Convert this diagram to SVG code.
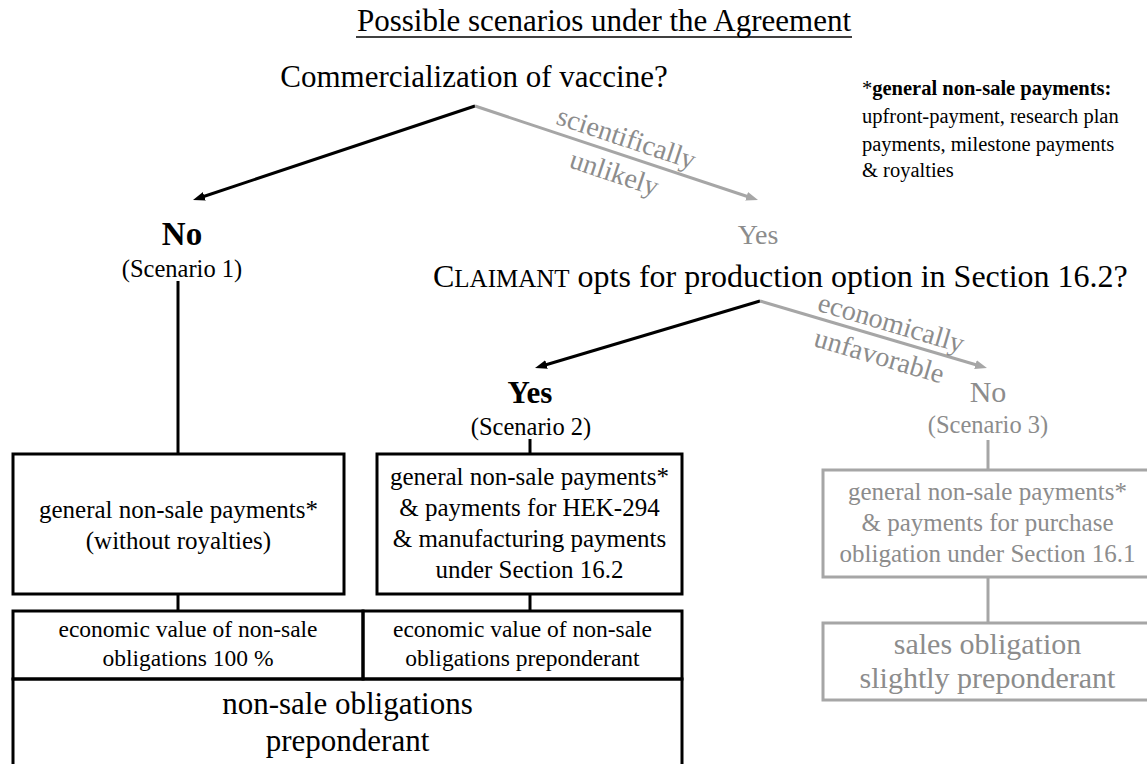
<svg xmlns="http://www.w3.org/2000/svg" width="1147" height="764" viewBox="0 0 1147 764">
<style>
text{font-family:"Liberation Serif","Times New Roman",serif;fill:#000}
.g{fill:#8c8c8c}
.c{text-anchor:middle}
.box{fill:none;stroke:#000;stroke-width:3}
.gbox{fill:none;stroke:#a6a6a6;stroke-width:3}
.ln{stroke:#000;stroke-width:3;fill:none}
.gln{stroke:#a6a6a6;stroke-width:3;fill:none}
.t25{font-size:25px}
.t23{font-size:23.5px}
.t31{font-size:31px}
.t30{font-size:30px}
.sc{font-size:24.5px}
.lab{font-size:28px}
</style>
<defs>
<marker id="ab" markerUnits="userSpaceOnUse" markerWidth="14" markerHeight="12" viewBox="0 -6 14 12" refX="4" refY="0" orient="auto"><path d="M0,-4.5 L12,0 L0,4.5 z" fill="#000"/></marker>
<marker id="ag" markerUnits="userSpaceOnUse" markerWidth="14" markerHeight="12" viewBox="0 -6 14 12" refX="4" refY="0" orient="auto"><path d="M0,-4.5 L12,0 L0,4.5 z" fill="#a6a6a6"/></marker>
</defs>

<g id="title">
<text class="c" x="604" y="31" font-size="31">Possible scenarios under the Agreement</text>
<line x1="356" y1="37" x2="852" y2="37" stroke="#000" stroke-width="1.5"/>
</g>

<g id="q1"><text class="c" x="474" y="87" font-size="31">Commercialization of vaccine?</text></g>

<g id="note">
<text x="862" y="95" font-size="20.5"><tspan>*</tspan><tspan font-weight="bold">general non-sale payments:</tspan></text>
<text x="862" y="123" font-size="20.5">upfront-payment, research plan</text>
<text x="862" y="151" font-size="20.5">payments, milestone payments</text>
<text x="862" y="177" font-size="20.5">&amp; royalties</text>
</g>

<g id="connectors">
<line class="ln" x1="475" y1="106" x2="200.6" y2="197.5" marker-end="url(#ab)"/>
<line class="gln" x1="475" y1="106" x2="750.4" y2="197.5" marker-end="url(#ag)"/>
<line class="ln" x1="760" y1="301" x2="542.7" y2="365.7" marker-end="url(#ab)"/>
<line class="gln" x1="760" y1="301" x2="979.3" y2="365.7" marker-end="url(#ag)"/>
<line class="ln" x1="178" y1="281" x2="178" y2="454"/>
<line class="ln" x1="530" y1="439" x2="530" y2="454"/>
<line class="ln" x1="178" y1="594" x2="178" y2="611"/>
<line class="ln" x1="530" y1="594" x2="530" y2="611"/>
<line class="gln" x1="988" y1="440" x2="988" y2="470"/>
<line class="gln" x1="988" y1="577" x2="988" y2="623"/>
<text class="g c lab" x="623.5" y="146.6" transform="rotate(18.4 623.5 146.6)">scientifically</text>
<text class="g c lab" x="611.5" y="181.6" transform="rotate(18.4 611.5 181.6)">unlikely</text>
<text class="g c lab" x="888.7" y="331.7" transform="rotate(16.4 888.7 331.7)">economically</text>
<text class="g c lab" x="876.7" y="364.7" transform="rotate(16.4 876.7 364.7)">unfavorable</text>
</g>

<g id="no1">
<text class="c" x="182" y="245" font-size="33" font-weight="bold">No</text>
<text class="c sc" x="182" y="277">(Scenario 1)</text>
</g>

<g id="yes1"><text class="g c" x="758" y="244" font-size="28">Yes</text></g>

<g id="q2"><text x="433" y="287" font-size="32"><tspan>C</tspan><tspan font-size="25">LAIMANT</tspan> opts for production option in Section 16.2?</text></g>

<g id="yes2">
<text class="c" x="530" y="403" font-size="31" font-weight="bold">Yes</text>
<text class="c sc" x="531" y="435">(Scenario 2)</text>
</g>

<g id="no2">
<text class="g c" x="988" y="402" font-size="30">No</text>
<text class="g c sc" x="988" y="433">(Scenario 3)</text>
</g>

<g id="box1">
<rect class="box" x="13" y="454" width="331" height="140"/>
<text class="c t25" x="178.5" y="518">general non-sale payments*</text>
<text class="c t25" x="178.5" y="549">(without royalties)</text>
</g>

<g id="box2">
<rect class="box" x="377" y="454" width="305" height="140"/>
<text class="c t25" x="529.5" y="485">general non-sale payments*</text>
<text class="c t25" x="529.5" y="516">&amp; payments for HEK-294</text>
<text class="c t25" x="529.5" y="547">&amp; manufacturing payments</text>
<text class="c t25" x="529.5" y="578">under Section 16.2</text>
</g>

<g id="cell1">
<rect class="box" x="13" y="611" width="350" height="68"/>
<text class="c t23" x="188" y="637">economic value of non-sale</text>
<text class="c t23" x="188" y="666">obligations 100 %</text>
</g>

<g id="cell2">
<rect class="box" x="363" y="611" width="319" height="68"/>
<text class="c t23" x="522.5" y="637">economic value of non-sale</text>
<text class="c t23" x="522.5" y="666">obligations preponderant</text>
</g>

<g id="result12">
<rect class="box" x="13" y="679" width="669" height="110"/>
<text class="c t31" x="347.5" y="714">non-sale obligations</text>
<text class="c t31" x="347.5" y="751">preponderant</text>
</g>

<g id="box3">
<rect class="gbox" x="823" y="470" width="329" height="107"/>
<text class="g c t25" x="987.5" y="500">general non-sale payments*</text>
<text class="g c t25" x="987.5" y="531">&amp; payments for purchase</text>
<text class="g c t25" x="987.5" y="562">obligation under Section 16.1</text>
</g>

<g id="result3">
<rect class="gbox" x="823" y="623" width="329" height="77"/>
<text class="g c t30" x="987.5" y="654">sales obligation</text>
<text class="g c t30" x="987.5" y="688">slightly preponderant</text>
</g>
</svg>
